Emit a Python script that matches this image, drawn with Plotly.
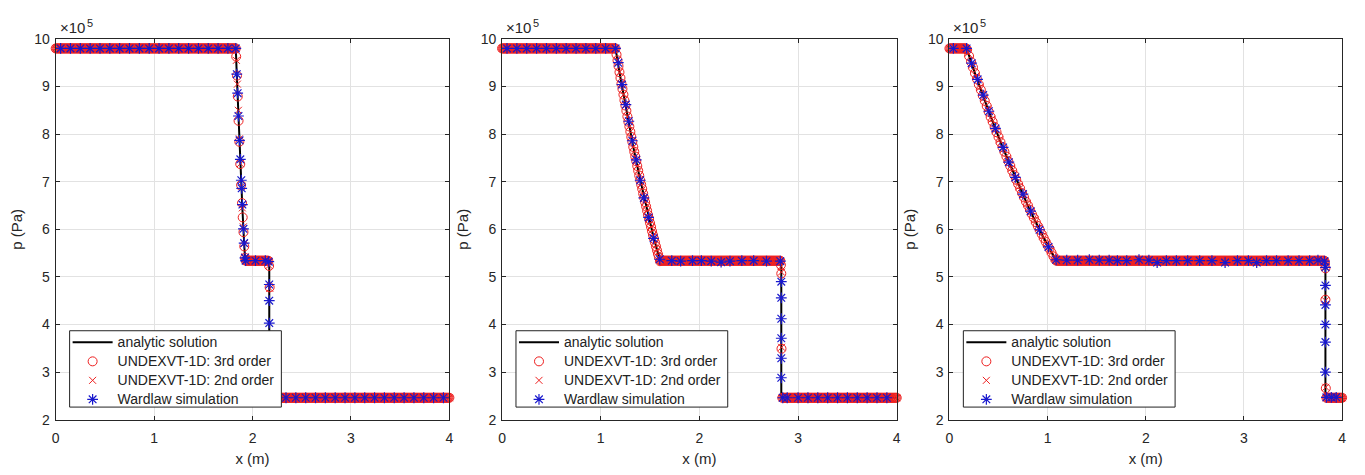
import numpy as np
import plotly.graph_objects as go

# ---------------- data: x in m, pressure in units of 1e5 Pa ----------------
P_HIGH, P_MID, P_LOW = 9.80, 5.34, 2.46

# ---- Panel 1 ----
P1_LINE_X = [0.0, 1.830, 1.840, 1.854, 1.868, 1.882, 1.897, 1.911, 1.925, 2.170, 2.170, 4.0]
P1_LINE_P = [9.80, 9.80, 9.24, 8.46, 7.73, 7.06, 6.43, 5.86, 5.34, 5.34, 2.46, 2.46]
P1_O3_FLATS = [(0.00, 1.83, P_HIGH), (1.93, 2.16, P_MID), (2.19, 4.00, P_LOW)]
P1_O3_X = [1.834, 1.842, 1.850, 1.858, 1.866, 1.875, 1.884, 1.893, 1.900, 1.908, 1.916, 1.924,
           2.168, 2.174, 2.177, 2.180]
P1_O3_P = [9.63, 9.23, 8.79, 8.28, 7.84, 7.37, 6.93, 6.55, 6.25, 5.94, 5.64, 5.40,
           5.23, 4.78, 3.60, 2.70]
P1_O2_FLATS = [(0.00, 1.82, P_HIGH), (1.94, 2.16, P_MID), (2.20, 4.00, P_LOW)]
P1_O2_X = [1.836, 1.846, 1.856, 1.866, 1.876, 1.886, 1.896, 1.906, 1.916, 1.926,
           2.168, 2.175, 2.180, 2.185]
P1_O2_P = [9.55, 9.05, 8.50, 7.90, 7.38, 6.90, 6.45, 6.05, 5.70, 5.42,
           5.24, 4.76, 3.70, 2.75]
P1_W_FLATS = [(0.05, 1.75, P_HIGH), (1.93, 2.13, P_MID), (2.24, 3.94, P_LOW)]
P1_W_X = [1.830, 1.840, 1.849, 1.857, 1.868, 1.876, 1.886, 1.890, 1.897, 1.908, 1.915, 1.923,
          2.165, 2.170, 2.170, 2.170, 2.170, 2.170, 2.170]
P1_W_P = [9.80, 9.26, 8.86, 8.38, 7.87, 7.47, 7.03, 6.86, 6.52, 6.01, 5.71, 5.40,
          5.32, 4.84, 4.50, 4.03, 3.55, 3.05, 2.65]

# ---- Panel 2 ----
P2_LINE_X = [0.0, 1.150, 1.195, 1.263, 1.330, 1.398, 1.465, 1.533, 1.600, 2.830, 2.830, 4.0]
P2_LINE_P = [9.80, 9.80, 9.24, 8.46, 7.73, 7.06, 6.43, 5.86, 5.34, 5.34, 2.46, 2.46]
P2_O3_FLATS = [(0.00, 1.14, P_HIGH), (1.61, 2.82, P_MID), (2.84, 4.00, P_LOW)]
P2_O3_RAREF_X = np.round(np.arange(1.15, 1.6001, 0.01), 3).tolist()
P2_O3_RAREF_P = [9.80, 9.67, 9.55, 9.43, 9.30, 9.18, 9.06, 8.95, 8.83, 8.71,
                 8.60, 8.49, 8.37, 8.26, 8.16, 8.05, 7.94, 7.84, 7.73, 7.63,
                 7.53, 7.43, 7.33, 7.23, 7.13, 7.03, 6.94, 6.85, 6.75, 6.66,
                 6.57, 6.48, 6.39, 6.30, 6.22, 6.13, 6.05, 5.96, 5.88, 5.80,
                 5.72, 5.64, 5.56, 5.48, 5.41, 5.33]
P2_O3_X = [2.826, 2.830, 2.832]
P2_O3_P = [5.25, 5.07, 3.49]
P2_O2_FLATS = [(0.00, 1.14, P_HIGH), (1.62, 2.82, P_MID), (2.84, 4.00, P_LOW)]
P2_O2_RAREF_X = np.round(np.arange(1.15, 1.5901, 0.02), 3).tolist()
P2_O2_RAREF_P = [9.80, 9.55, 9.30, 9.06, 8.83, 8.60, 8.37, 8.16, 7.94, 7.73,
                 7.53, 7.33, 7.13, 6.94, 6.75, 6.57, 6.39, 6.22, 6.05, 5.88,
                 5.72, 5.56, 5.41]
P2_O2_X = [2.828, 2.831, 2.833]
P2_O2_P = [5.22, 5.10, 3.52]
P2_W_FLATS = [(0.05, 1.05, P_HIGH), (3.00, 3.90, P_LOW)]
P2_W_X = [1.150, 1.178, 1.215, 1.255, 1.285, 1.320, 1.360, 1.400, 1.437, 1.485, 1.535, 1.598,
          1.720, 1.810, 1.930, 2.020, 2.120, 2.220, 2.310, 2.430, 2.550, 2.680, 2.820,
          2.830, 2.830, 2.830, 2.830, 2.830, 2.830, 2.845, 2.890]
P2_W_P = [9.80, 9.50, 9.04, 8.62, 8.27, 7.86, 7.46, 7.03, 6.66, 6.25, 5.81, 5.37,
          5.34, 5.33, 5.34, 5.34, 5.33, 5.31, 5.33, 5.34, 5.34, 5.33, 5.33,
          4.90, 4.56, 4.12, 3.71, 3.29, 2.88, 2.46, 2.46]

# ---- Panel 3 ----
P3_LINE_X = [0.0, 0.175, 0.266, 0.403, 0.540, 0.677, 0.813, 0.950, 1.087, 3.830, 3.830, 4.0]
P3_LINE_P = [9.80, 9.80, 9.24, 8.46, 7.73, 7.06, 6.43, 5.86, 5.34, 5.34, 2.46, 2.46]
P3_O3_FLATS = [(0.00, 0.17, P_HIGH), (1.09, 3.82, P_MID), (3.84, 4.00, P_LOW)]
P3_O3_RAREF_X = np.round(np.arange(0.18, 1.0801, 0.02), 3).tolist()
P3_O3_RAREF_P = [9.77, 9.64, 9.52, 9.40, 9.28, 9.16, 9.04, 8.93, 8.81, 8.70,
                 8.59, 8.47, 8.36, 8.26, 8.15, 8.04, 7.94, 7.83, 7.73, 7.63,
                 7.53, 7.43, 7.33, 7.23, 7.14, 7.04, 6.95, 6.86, 6.76, 6.67,
                 6.58, 6.50, 6.41, 6.32, 6.24, 6.15, 6.07, 5.99, 5.90, 5.82,
                 5.74, 5.66, 5.59, 5.51, 5.43, 5.36]
P3_O3_X = [3.826, 3.830, 3.830, 3.834]
P3_O3_P = [5.28, 5.18, 4.52, 2.66]
P3_O2_FLATS = [(0.00, 0.16, P_HIGH), (1.10, 3.82, P_MID), (3.84, 4.00, P_LOW)]
P3_O2_RAREF_X = np.round(np.arange(0.19, 1.0701, 0.04), 3).tolist()
P3_O2_RAREF_P = [9.70, 9.46, 9.22, 8.98, 8.75, 8.53, 8.31, 8.09, 7.88, 7.68,
                 7.48, 7.28, 7.09, 6.90, 6.72, 6.54, 6.37, 6.20, 6.03, 5.86,
                 5.70, 5.55, 5.40]
P3_O2_X = [3.828, 3.830, 3.834]
P3_O2_P = [5.22, 4.50, 2.68]
P3_W_FLATS = []
P3_W_X = [0.040, 0.175, 0.226, 0.287, 0.344, 0.402, 0.469, 0.547, 0.605, 0.672, 0.749, 0.827,
          0.918, 1.009, 1.087,
          1.195, 1.306, 1.425, 1.526, 1.627, 1.711, 1.806, 1.931, 2.032, 2.116,
          2.210, 2.312, 2.427, 2.549, 2.674, 2.808, 2.934, 3.045, 3.130, 3.230,
          3.332, 3.450, 3.561, 3.669, 3.754, 3.820,
          3.830, 3.830, 3.830, 3.830, 3.830, 3.830, 3.840, 3.890, 3.940]
P3_W_P = [9.80, 9.80, 9.49, 9.15, 8.82, 8.48, 8.12, 7.72, 7.41, 7.09, 6.74, 6.38,
          5.99, 5.63, 5.36,
          5.35, 5.35, 5.36, 5.35, 5.35, 5.34, 5.34, 5.36, 5.35, 5.30,
          5.34, 5.34, 5.34, 5.34, 5.34, 5.30, 5.34, 5.34, 5.30, 5.34,
          5.34, 5.34, 5.34, 5.34, 5.35, 5.33,
          5.20, 4.82, 4.41, 4.00, 3.63, 3.00, 2.47, 2.47, 2.47]

GRID_O3, GRID_O2, GRID_W = 0.01, 0.02, 0.1   # sampling spacing of each data set (m)

LEGEND_NAMES = ["analytic solution", "UNDEXVT-1D: 3rd order",
                "UNDEXVT-1D: 2nd order", "Wardlaw simulation"]
X_TICKS = [0, 1, 2, 3, 4]
Y_TICKS = [2, 3, 4, 5, 6, 7, 8, 9, 10]


def build(flats, step, *pairs):
    xs, ps = [], []
    for x0, x1, p in flats:
        n = int(round((x1 - x0) / step)) + 1
        xs += np.round(np.linspace(x0, x1, n), 4).tolist()
        ps += [p] * n
    for px, pp in pairs:
        assert len(px) == len(pp)
        xs += list(px)
        ps += list(pp)
    order = np.argsort(xs, kind="stable")
    return [xs[i] for i in order], [ps[i] for i in order]


PANELS = [
    dict(line=(P1_LINE_X, P1_LINE_P),
         o3=build(P1_O3_FLATS, GRID_O3, (P1_O3_X, P1_O3_P)),
         o2=build(P1_O2_FLATS, GRID_O2, (P1_O2_X, P1_O2_P)),
         w=build(P1_W_FLATS, GRID_W, (P1_W_X, P1_W_P))),
    dict(line=(P2_LINE_X, P2_LINE_P),
         o3=build(P2_O3_FLATS, GRID_O3, (P2_O3_RAREF_X, P2_O3_RAREF_P), (P2_O3_X, P2_O3_P)),
         o2=build(P2_O2_FLATS, GRID_O2, (P2_O2_RAREF_X, P2_O2_RAREF_P), (P2_O2_X, P2_O2_P)),
         w=build(P2_W_FLATS, GRID_W, (P2_W_X, P2_W_P))),
    dict(line=(P3_LINE_X, P3_LINE_P),
         o3=build(P3_O3_FLATS, GRID_O3, (P3_O3_RAREF_X, P3_O3_RAREF_P), (P3_O3_X, P3_O3_P)),
         o2=build(P3_O2_FLATS, GRID_O2, (P3_O2_RAREF_X, P3_O2_RAREF_P), (P3_O2_X, P3_O2_P)),
         w=build(P3_W_FLATS, GRID_W, (P3_W_X, P3_W_P))),
]

# ---------------- styling / layout ----------------
W, H = 1365, 475
PLOT_LEFT = [52, 501, 951]
PLOT_RIGHT = [448, 898, 1346]
PLOT_TOP, PLOT_BOTTOM = 32, 426
FONT = "Liberation Sans, Arial, Helvetica, sans-serif"
AX = "#262626"
TXT = "#262626"
GRID = "#e2e2e2"
RED = "rgb(238,32,32)"
BLUE = "rgb(24,24,205)"
LEG_TXT = '<span style="font-size:14px">{}</span>'

fig = go.Figure()
for i, pan in enumerate(PANELS):
    xa = "x" if i == 0 else f"x{i+1}"
    ya = "y" if i == 0 else f"y{i+1}"
    lg = "legend" if i == 0 else f"legend{i+1}"
    common = dict(xaxis=xa, yaxis=ya, legend=lg, cliponaxis=False, hoverinfo="skip")
    fig.add_trace(go.Scatter(x=pan["line"][0], y=pan["line"][1], mode="lines",
                             line=dict(color="black", width=2),
                             name=LEG_TXT.format(LEGEND_NAMES[0]), **common))
    fig.add_trace(go.Scatter(x=pan["o3"][0], y=pan["o3"][1], mode="markers",
                             marker=dict(symbol="circle-open", size=9, color=RED,
                                         line=dict(width=1, color=RED)),
                             name=LEG_TXT.format(LEGEND_NAMES[1]), **common))
    fig.add_trace(go.Scatter(x=pan["o2"][0], y=pan["o2"][1], mode="markers",
                             marker=dict(symbol="x-thin-open", size=7, color=RED,
                                         line=dict(width=1, color=RED)),
                             name=LEG_TXT.format(LEGEND_NAMES[2]), **common))
    fig.add_trace(go.Scatter(x=pan["w"][0], y=pan["w"][1], mode="markers",
                             marker=dict(symbol="asterisk-open", size=9, color=BLUE,
                                         line=dict(width=1.2, color=BLUE)),
                             name=LEG_TXT.format(LEGEND_NAMES[3]), **common))

layout = dict(autosize=True, margin=dict(l=0, r=0, t=0, b=0, pad=0),
              paper_bgcolor="white", plot_bgcolor="white",
              font=dict(family=FONT, color=TXT), showlegend=True)

ydom = [1 - PLOT_BOTTOM / H, 1 - PLOT_TOP / H]
annotations, shapes = [], []
LEG_BOX = (14, 213, 334, 413)   # legend frame: left offset, width, top, bottom (px)
for i in range(3):
    sfx = "" if i == 0 else str(i + 1)
    xdom = [PLOT_LEFT[i] / W, PLOT_RIGHT[i] / W]
    axis_style = dict(showline=True, mirror="ticks", linecolor=AX, linewidth=1,
                      ticks="inside", ticklen=4, tickcolor=AX, tickwidth=1,
                      showgrid=True, gridcolor=GRID, gridwidth=1, zeroline=False,
                      tickfont=dict(size=14, color=TXT, family=FONT))
    layout["xaxis" + sfx] = dict(domain=xdom, range=[0, 4], tickvals=X_TICKS,
                                 anchor="y" + sfx, ticklabelstandoff=6,
                                 title=dict(text="x (m)", font=dict(size=15, color=TXT),
                                            standoff=8),
                                 **axis_style)
    layout["yaxis" + sfx] = dict(domain=ydom, range=[2, 10], tickvals=Y_TICKS,
                                 anchor="x" + sfx, ticklabelstandoff=2,
                                 title=dict(text="p (Pa)", font=dict(size=15, color=TXT),
                                            standoff=8),
                                 **axis_style)
    bx0 = PLOT_LEFT[i] + LEG_BOX[0]
    shapes.append(dict(type="rect", xref="paper", yref="paper", layer="above",
                       x0=bx0 / W, x1=(bx0 + LEG_BOX[1]) / W,
                       y0=1 - LEG_BOX[3] / H, y1=1 - LEG_BOX[2] / H,
                       fillcolor="white", line=dict(color="#222222", width=1)))
    layout["legend" + sfx] = dict(x=(bx0 - 2) / W, y=1 - (LEG_BOX[2] - 3) / H,
                                  xanchor="left", yanchor="top",
                                  bgcolor="rgba(0,0,0,0)", borderwidth=0,
                                  font=dict(size=12, color="#222222", family=FONT),
                                  itemwidth=40, tracegroupgap=0)
    annotations.append(dict(xref="paper", yref="paper", x=(PLOT_LEFT[i] + 2) / W,
                            y=1 - (PLOT_TOP - 1) / H, xanchor="left", yanchor="bottom",
                            text="×10", showarrow=False,
                            font=dict(size=15, color=TXT, family=FONT)))
    annotations.append(dict(xref="paper", yref="paper", x=(PLOT_LEFT[i] + 29) / W,
                            y=1 - 16 / H, xanchor="left", yanchor="middle",
                            text="5", showarrow=False,
                            font=dict(size=11, color=TXT, family=FONT)))
layout["annotations"] = annotations
layout["shapes"] = shapes
fig.update_layout(**layout)

POST = ("document.documentElement.style.margin='0';"
        "document.documentElement.style.overflow='hidden';"
        "document.body.style.margin='0';document.body.style.padding='0';"
        "document.body.style.overflow='hidden';"
        "Plotly.Plots.resize(document.getElementById('{plot_id}'));")

fig.write_html("out.html", default_width="100vw", default_height="100vh",
               config={"displayModeBar": False, "responsive": True},
               post_script=POST)
